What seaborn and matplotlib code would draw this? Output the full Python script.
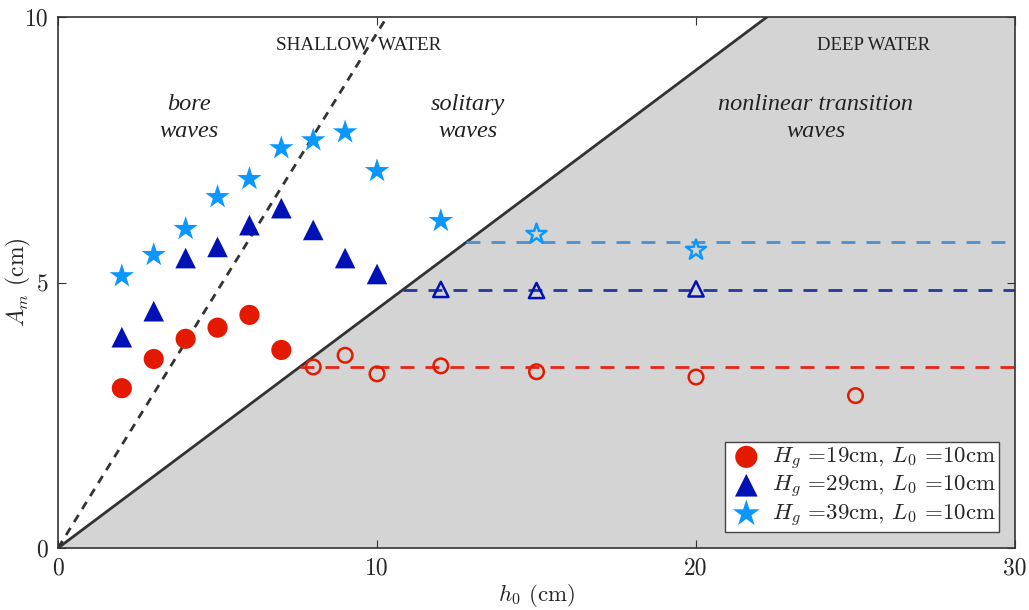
import numpy as np
import pandas as pd
import matplotlib

matplotlib.use("Agg")
import matplotlib.pyplot as plt
import seaborn as sns

# measured amplitudes A_m (cm) against still water depth h_0 (cm)
h_19 = [2, 3, 4, 5, 6, 7, 8, 9, 10, 12, 15, 20, 25]
a_19 = [3.01, 3.56, 3.94, 4.15, 4.39, 3.73, 3.41, 3.63, 3.28, 3.43, 3.32, 3.22, 2.87]
h_29 = [2, 3, 4, 5, 6, 7, 8, 9, 10, 12, 15, 20]
a_29 = [3.97, 4.46, 5.46, 5.67, 6.08, 6.40, 5.99, 5.46, 5.16, 4.87, 4.85, 4.88]
h_39 = [2, 3, 4, 5, 6, 7, 8, 9, 10, 12, 15, 20]
a_39 = [5.12, 5.52, 6.01, 6.61, 6.95, 7.53, 7.68, 7.83, 7.10, 6.16, 5.91, 5.61]
# index where the points cross into the deep-water region (open markers)
open_19 = 6
open_29 = 9
open_39 = 10
# horizontal asymptotes
asym = {"19": 3.41, "29": 4.86, "39": 5.76}
# region boundaries A = k * h
k_solid = 0.45
k_dotted = 0.97

labels = [r"$H_g$ =19cm, $L_0$ =10cm",
          r"$H_g$ =29cm, $L_0$ =10cm",
          r"$H_g$ =39cm, $L_0$ =10cm"]
c_red = "#e31a00"
c_blue = "#0011b5"
c_star = "#0a98ff"
c_line = {"19": "#e8241a", "29": "#1f3a99", "39": "#4a8fd0"}

sns.set_style("ticks")
plt.rcParams["font.family"] = ["cmr10", "DejaVu Serif"]
plt.rcParams["mathtext.fontset"] = "cm"
plt.rcParams["axes.unicode_minus"] = False

fig, ax = plt.subplots(figsize=(10.29, 6.10), dpi=100)
fig.subplots_adjust(left=0.0564, right=0.9864, bottom=0.1016, top=0.9721)

# shaded deep water region
h_top = 10 / k_solid
ax.fill([0, h_top, 30, 30], [0, 10, 10, 0], color="#d4d4d4", zorder=0, lw=0)
sns.lineplot(x=[0, h_top], y=[0, 10], ax=ax, color="#333333", lw=2, zorder=1)
sns.lineplot(x=[0, 10 / k_dotted], y=[0, 10], ax=ax, color="#333333", lw=2,
             linestyle=(0, (3, 2.5)), zorder=1)

for key in ["19", "29", "39"]:
    y0 = asym[key]
    ax.plot([y0 / k_solid, 30], [y0, y0], color=c_line[key], lw=2,
            linestyle=(0, (5, 4)), zorder=2)

sets = [(h_19, a_19, open_19, "o", c_red, 210, 110, labels[0]),
        (h_29, a_29, open_29, "^", c_blue, 220, 120, labels[1]),
        (h_39, a_39, open_39, "*", c_star, 340, 230, labels[2])]
for h, a, i0, m, c, s_full, s_open, lab in sets:
    df = pd.DataFrame({"h": h, "a": a})
    sns.scatterplot(data=df.iloc[:i0], x="h", y="a", marker=m, color=c, s=s_full,
                    edgecolor="none", ax=ax, zorder=3, label=lab)
    sns.scatterplot(data=df.iloc[i0:], x="h", y="a", marker=m, facecolor="none",
                    edgecolor=c, linewidth=1.8, s=s_open, ax=ax, zorder=3)

ax.set_xlim(0, 30)
ax.set_ylim(0, 10)
ax.set_xticks([0, 10, 20, 30])
ax.set_yticks([0, 5, 10])
ax.tick_params(direction="in", top=True, right=True, length=6, labelsize=17,
               color="#333333", pad=7)
for sp in ax.spines.values():
    sp.set_linewidth(1.2)
    sp.set_color("#333333")
ax.set_xlabel(r"$h_0$ (cm)", fontsize=16.5)
ax.set_ylabel(r"$A_m$ (cm)", fontsize=17)
ax.xaxis.set_label_coords(0.5, -0.064)
ax.yaxis.set_label_coords(-0.026, 0.5)

serif = ["Liberation Serif", "DejaVu Serif"]
ax.text(9.43, 9.47, "SHALLOW  WATER", ha="center", va="center", fontsize=13.8,
        family=serif, color="#222222")
ax.text(25.58, 9.47, "DEEP WATER", ha="center", va="center", fontsize=13.5,
        family=serif, color="#222222")
for x0, txt in [(4.1, "bore\nwaves"), (12.85, "solitary\nwaves"),
                (23.75, "nonlinear transition\nwaves")]:
    ax.text(x0, 8.1, txt, ha="center", va="center", fontsize=17.5,
            family=serif, style="italic", color="#222222", linespacing=1.33)

leg = ax.legend(loc="lower right", fontsize=16.5, frameon=True, fancybox=False,
                edgecolor="#444444", handletextpad=0.3, borderpad=0.15,
                labelspacing=0.1, handlelength=1.6, borderaxespad=0.7,
                markerscale=1.1)
leg.get_frame().set_linewidth(1.0)
leg.get_frame().set_alpha(1)

fig.savefig("out.png", dpi=100)
